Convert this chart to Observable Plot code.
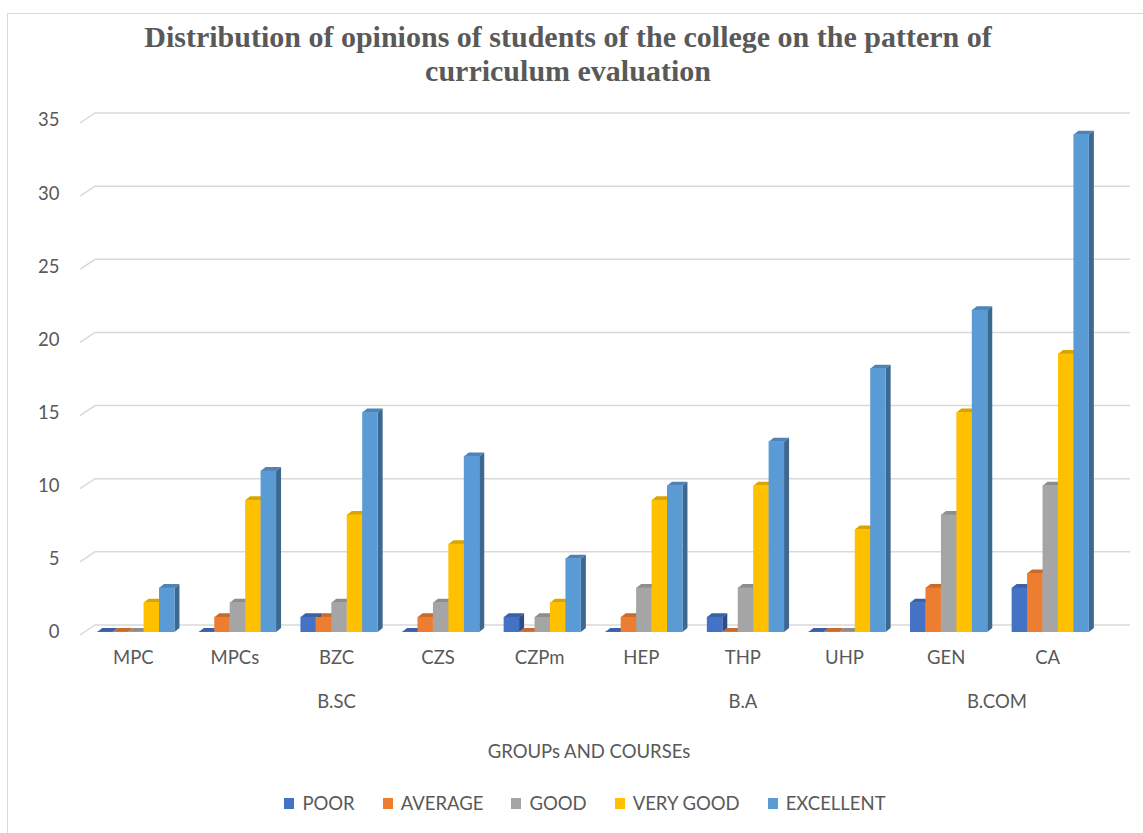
<!DOCTYPE html>
<html>
<head>
<meta charset="utf-8">
<script src="https://cdn.jsdelivr.net/npm/d3@7"></script>
<script src="https://cdn.jsdelivr.net/npm/@observablehq/plot@0.6"></script>
<style>
  body { margin: 0; background: #fff; }
  #chart { position: relative; width: 1143px; height: 833px; overflow: hidden; font-family: Lato, "Open Sans", sans-serif; color: #595959; background: #fff; }
  #frame { position: absolute; left: 7px; top: 13px; width: 1145px; height: 830px; border: 1.5px solid #d9d9d9; box-sizing: border-box; }
  #title { position: absolute; left: 0; top: 20px; width: 1136px; text-align: center; font-family: "Liberation Serif", "Times New Roman", serif; font-weight: bold; font-size: 30px; line-height: 34px; color: #595959; }
  #plot { position: absolute; left: 0; top: 0; }
  #xtitle { position: absolute; left: 0; width: 1178px; top: 739px; text-align: center; font-size: 18.5px; line-height: 24px; }
  #legend { position: absolute; left: 0; width: 1170px; top: 791px; display: flex; justify-content: center; gap: 0; font-size: 18.5px; line-height: 24px; }
  .item { display: flex; align-items: center; margin: 0 14px; }
  .sw { width: 10px; height: 11px; margin-right: 8px; }
</style>
</head>
<body>
<div id="chart">
  <div id="frame"></div>
  <div id="plot"></div>
  <div id="title">Distribution of opinions of students of the college on the pattern of<br>curriculum evaluation</div>
  <div id="xtitle">GROUPs AND COURSEs</div>
  <div id="legend"></div>
</div>
<script>
// ---- data ----
const courses = ["MPC", "MPCs", "BZC", "CZS", "CZPm", "HEP", "THP", "UHP", "GEN", "CA"];
const groupOf = ["B.SC", "B.SC", "B.SC", "B.SC", "B.SC", "B.A", "B.A", "B.A", "B.COM", "B.COM"];
const seriesNames = ["POOR", "AVERAGE", "GOOD", "VERY GOOD", "EXCELLENT"];
const poor      = [0, 0, 1, 0, 1, 0, 1, 0, 2, 3];
const average   = [0, 1, 1, 1, 0, 1, 0, 0, 3, 4];
const good      = [0, 2, 2, 2, 1, 3, 3, 0, 8, 10];
const veryGood  = [2, 9, 8, 6, 2, 9, 10, 7, 15, 19];
const excellent = [3, 11, 15, 12, 5, 10, 13, 18, 22, 34];
const yTicks = [0, 5, 10, 15, 20, 25, 30, 35];
const colors = ["#4472C4", "#ED7D31", "#A5A5A5", "#FFC000", "#5B9BD5"];

// ---- build table ----
const seriesValues = [poor, average, good, veryGood, excellent];
const BW = 0.152, SHIFT = 0.03;
const rows = [];
courses.forEach((c, i) => {
  seriesValues.forEach((vals, s) => {
    const x1 = i + SHIFT + (s - 2.5) * BW;
    rows.push({i, course: c, series: seriesNames[s], s, value: vals[i], x1, x2: x1 + BW});
  });
});
const courseRows = courses.map((c, i) => ({i, course: c}));
const groupNames = [...new Set(groupOf)];
const groupRows = groupNames.map(g => ({
  name: g,
  pos: d3.mean(groupOf.map((n, i) => n === g ? i : null).filter(v => v !== null))
}));

const D = 5, E = 4; // 3D depth in px
function gridMark() {
  return (index, scales, values, dims) => {
    const g = d3.create("svg:g");
    const x0 = dims.marginLeft - 2, x1 = dims.width - 13;
    for (const t of yTicks) {
      const yy = scales.y(t);
      g.append("path")
        .attr("d", `M${x0},${yy + 3}L${x0 + 15},${yy - 7}L${x1},${yy - 7}`)
        .attr("fill", "none").attr("stroke", "#d9d9d9").attr("stroke-width", 1.5);
    }
    return g.node();
  };
}
function faceMark(kind) {
  return (index, scales) => {
    const g = d3.create("svg:g");
    for (const r of rows) {
      const a = scales.x(r.x1), b = scales.x(r.x2), t = scales.y(r.value), base = scales.y(0);
      const col = d3.color(colors[r.s]);
      let pts, fill;
      if (kind === "top") {
        pts = [[a, t], [a + D, t - E], [b + D, t - E], [b, t]];
        fill = col.darker(0.45);
      } else {
        pts = [[b, base], [b + D, base - E], [b + D, t - E], [b, t]];
        fill = col.darker(1.1);
      }
      g.append("polygon").attr("points", pts.map(p => p.join(",")).join(" ")).attr("fill", fill);
    }
    return g.node();
  };
}

const chart = Plot.plot({
  width: 1143,
  height: 833,
  marginLeft: 82,
  marginRight: 45,
  marginTop: 120,
  marginBottom: 201,
  style: {fontFamily: "Lato, 'Open Sans', sans-serif", fontSize: "18.5px", color: "#595959", background: "transparent"},
  x: {domain: [-0.5, 9.5], axis: null},
  y: {domain: [0, 35], ticks: yTicks, tickSize: 0, tickPadding: 23, label: null, tickFormat: d => String(d)},
  marks: [
    gridMark(),
    faceMark("top"),
    faceMark("side"),
    Plot.rect(rows, {x1: "x1", x2: "x2", y1: 0, y2: "value", fill: d => colors[d.s], insetTop: -0.5}),
    Plot.text(courseRows, {x: "i", text: "course", frameAnchor: "bottom", dy: 31, fill: "#595959", fontSize: 18.5}),
    Plot.text(groupRows, {x: "pos", text: "name", frameAnchor: "bottom", dy: 75, fill: "#595959", fontSize: 18.5})
  ]
});
document.getElementById("plot").appendChild(chart);

const legend = document.getElementById("legend");
seriesNames.forEach((n, s) => {
  const it = document.createElement("div");
  it.className = "item";
  const sw = document.createElement("span");
  sw.className = "sw";
  sw.style.background = colors[s];
  it.appendChild(sw);
  const tx = document.createElement("span");
  tx.textContent = n;
  it.appendChild(tx);
  legend.appendChild(it);
});
</script>
</body>
</html>
